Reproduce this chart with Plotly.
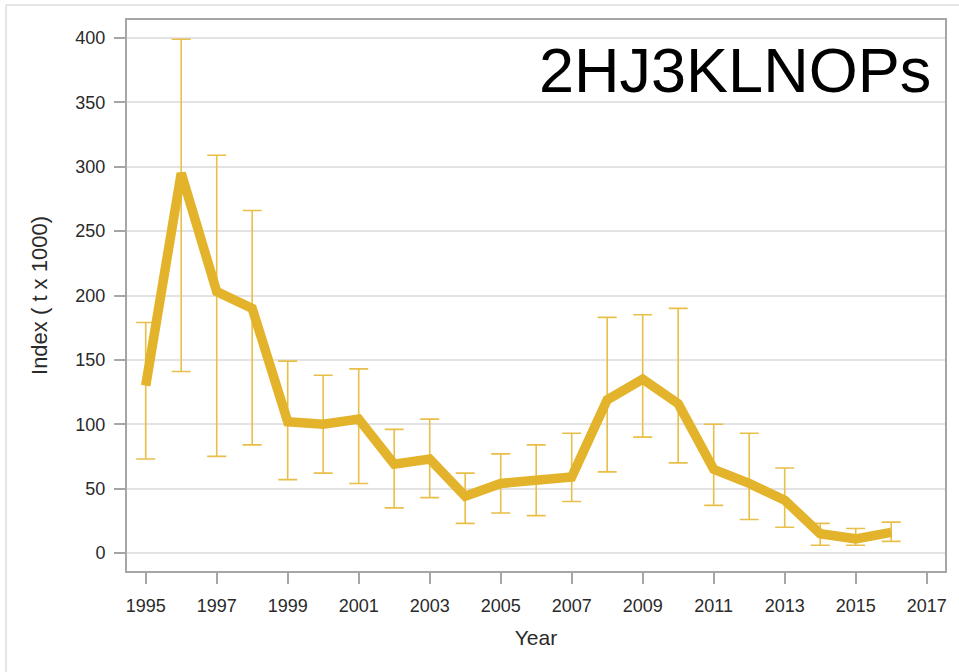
import plotly.graph_objects as go

years = list(range(1995, 2017))
index_values = [130, 295, 203, 190, 102, 100, 104, 69, 73, 44, 54, 56, 59, 119, 135, 116, 65, 54, 41, 15, 11, 16]
lower_ci = [73, 141, 75, 84, 57, 62, 54, 35, 43, 23, 31, 29, 40, 63, 90, 70, 37, 26, 20, 6, 6, 9]
upper_ci = [179, 399, 309, 266, 149, 138, 143, 96, 104, 62, 77, 84, 93, 183, 185, 190, 100, 93, 66, 23, 19, 24]
x_ticks = list(range(1995, 2018, 2))
y_ticks = list(range(0, 401, 50))
label = "2HJ3KLNOPs"

err_plus = [u - v for u, v in zip(upper_ci, index_values)]
err_minus = [v - l for v, l in zip(index_values, lower_ci)]

LINE_COLOR = "#E3B42B"
ERR_COLOR = "#E8BF48"
FONT = "Liberation Sans, Arial, sans-serif"

fig = go.Figure()
fig.add_trace(go.Scatter(
    x=years, y=index_values, mode="markers",
    marker=dict(size=1, color="rgba(0,0,0,0)"),
    error_y=dict(type="data", symmetric=False, array=err_plus, arrayminus=err_minus,
                 color=ERR_COLOR, thickness=1.6, width=9.5),
    hoverinfo="skip", showlegend=False,
))
fig.add_trace(go.Scatter(
    x=years, y=index_values, mode="lines",
    line=dict(color=LINE_COLOR, width=9.5),
    showlegend=False,
))

fig.add_annotation(
    text=label, xref="paper", yref="paper", x=0.9853, y=0.909,
    xanchor="right", yanchor="middle", showarrow=False,
    font=dict(family=FONT, size=63, color="#000000"),
)

# outer image border (left and top)
fig.add_shape(type="line", xref="paper", yref="paper",
              x0=-121/818, x1=1.1, y0=(571-5)/551, y1=(571-5)/551,
              line=dict(color="#dcdcdc", width=1.5))
fig.add_shape(type="line", xref="paper", yref="paper",
              x0=-121/818, x1=-121/818, y0=-0.2, y1=(571-5)/551,
              line=dict(color="#dcdcdc", width=1.5))

fig.update_layout(
    width=959, height=672,
    margin=dict(l=127, r=14, t=20, b=101),
    paper_bgcolor="white", plot_bgcolor="white",
    font=dict(family=FONT, color="#333333"),
    xaxis=dict(
        range=[1994.473, 2017.516], tickvals=x_ticks, ticktext=[str(t) for t in x_ticks],
        showgrid=False, zeroline=False,
        showline=True, mirror=True, linecolor="#a6a6a6", linewidth=2,
        ticks="outside", ticklen=11, tickcolor="#a6a6a6", tickwidth=1.5,
        tickfont=dict(size=18, color="#2a2a2a"), ticklabelstandoff=6,
        title=dict(text="Year", font=dict(size=21, color="#2a2a2a"), standoff=16),
    ),
    yaxis=dict(
        range=[-14, 414], tickvals=y_ticks,
        showgrid=True, gridcolor="#e3e3e3", gridwidth=1.5, zeroline=False,
        showline=True, mirror=True, linecolor="#a6a6a6", linewidth=2,
        ticks="outside", ticklen=11, tickcolor="#a6a6a6", tickwidth=1.5,
        tickfont=dict(size=18, color="#2a2a2a"), ticklabelstandoff=5,
        title=dict(text="Index ( t x 1000)", font=dict(size=22, color="#2a2a2a"), standoff=22),
    ),
)

fig.write_html("out.html")
